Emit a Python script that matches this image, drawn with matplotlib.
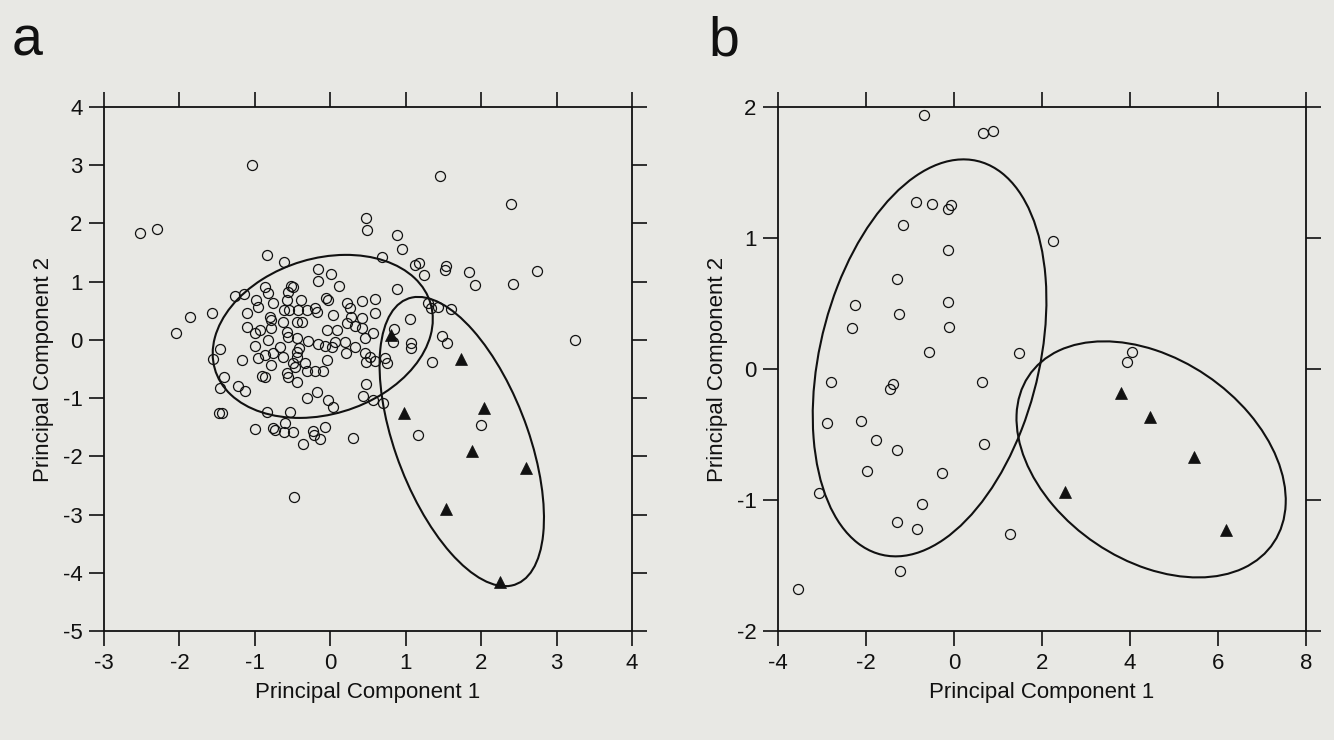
import matplotlib
matplotlib.use("Agg")
import matplotlib.pyplot as plt
from matplotlib.patches import Ellipse

plt.rcParams['font.family'] = ['Liberation Sans', 'DejaVu Sans']

# ---------------- Panel a data ----------------
a_circ_x = [-1.04, -2.52, -2.30, -0.835, 1.45, 2.39, 0.89, 0.955, 0.685, 1.12, 1.18, 1.245, 1.53, 1.52,
            1.835, 1.92, 2.42, 2.74, 0.89, 1.29, 1.335, 1.43, 1.60, 1.06, 0.845, 0.83, 1.065, 1.065,
            1.475, 1.55, 0.72, 0.755, 1.345, 3.25, 0.695, 1.16, 2.0, 0.475, 0.49,
            -0.16, 0.01, -0.16, 0.12, -0.61, -0.865, -0.82, -0.52, -0.49, -0.555, -1.26, -1.14, -0.985,
            -0.955, -0.765, -0.57, -0.39, -0.06, -1.86, -1.57, -1.11, -0.545, -0.425, -0.31, -0.20, -0.18,
            -0.78, -0.625, -0.445, -0.38, -1.11, -0.93, -1.0, -0.78, -0.58, -0.555, -0.05, -0.82, -0.445,
            -0.29, -0.16, -0.07, -1.46, -1.0, -0.665, -0.865, -0.755, -0.625, -0.445, -1.55, -1.175,
            -0.955, -0.78, -0.49, -0.335, -0.05, -0.20, -0.31, -0.09, -1.415, -0.91, -0.865, -0.555,
            -0.445, -0.18, -1.46, -1.22, -1.13, -0.31, -0.03, 0.415, 0.59, 0.04, 0.22, 0.26, 0.28, 0.33,
            0.415, 0.59, -0.80, -0.62, 0.085, 0.22, 0.06, 0.195, 0.46, 0.57, -0.42, 0.02, 0.33, 0.21,
            0.46, 0.53, 0.59, -0.445, -0.47, -0.58, 0.48, 0.48, 0.44, -0.03, 0.03, 0.56, -1.475, -1.43,
            -0.835, -0.535, -1.0, -0.755, -0.735, -0.60, -0.615, -0.49, -0.235, -0.21, -0.13, -0.07,
            -0.36, 0.305, -0.48, 0.415, -2.05]
a_circ_y = [3.01, 1.83, 1.90, 1.45, 2.82, 2.34, 1.81, 1.56, 1.43, 1.29, 1.32, 1.12, 1.27, 1.20,
            1.17, 0.94, 0.96, 1.19, 0.88, 0.64, 0.54, 0.57, 0.53, 0.355, 0.19, -0.03, -0.06, -0.14,
            0.06, -0.06, -0.31, -0.40, -0.38, 0.005, -1.09, -1.63, -1.46, 2.09, 1.89,
            1.22, 1.14, 1.02, 0.92, 1.33, 0.90, 0.80, 0.93, 0.91, 0.83, 0.755, 0.78, 0.69,
            0.57, 0.64, 0.69, 0.69, 0.715, 0.39, 0.46, 0.46, 0.51, 0.51, 0.51, 0.54, 0.485,
            0.34, 0.30, 0.31, 0.30, 0.22, 0.17, 0.115, 0.20, 0.14, 0.057, 0.17, 0.0, 0.03,
            -0.02, -0.07, -0.10, -0.16, -0.10, -0.125, -0.26, -0.23, -0.29, -0.30, -0.33, -0.34,
            -0.31, -0.43, -0.40, -0.40, -0.34, -0.54, -0.54, -0.54, -0.63, -0.62, -0.63, -0.63,
            -0.715, -0.89, -0.83, -0.80, -0.87, -1.0, 0.68, 0.67, 0.70, 0.43, 0.63, 0.54, 0.40, 0.23,
            0.37, 0.46, 0.40, 0.51, 0.17, 0.29, -0.03, -0.03, 0.03, 0.115, -0.14, -0.115, -0.115, -0.23,
            -0.23, -0.29, -0.37, -0.20, -0.46, -0.57, -0.38, -0.755, -0.97, -1.03, -1.16, -1.04, -1.25, -1.26,
            -1.23, -1.23, -1.53, -1.51, -1.54, -1.43, -1.58, -1.58, -1.56, -1.63, -1.70, -1.50,
            -1.78, -1.69, -2.69, 0.20, 0.12]
a_tri_x = [0.81, 1.73, 0.977, 2.04, 1.88, 2.60, 1.54, 2.245]
a_tri_y = [0.085, -0.33, -1.25, -1.17, -1.90, -2.20, -2.90, -4.16]

# ellipses (centre x, centre y, width, height, angle)
a_ell_circ = (-0.10, 0.06, 3.154, 2.532, 39.5)
a_ell_tri = (1.743, -1.746, 5.12, 1.796, -75.07)

a_xticks = [-3, -2, -1, 0, 1, 2, 3, 4]
a_yticks = [-5, -4, -3, -2, -1, 0, 1, 2, 3, 4]

# ---------------- Panel b data ----------------
b_circ_x = [-0.682, 0.667, 0.879, -0.87, -0.507, -0.075, -0.143, -1.16, 2.257, -0.128, -1.30, -2.25,
            -1.243, -0.128, -2.31, -0.107, -0.568, 1.485, 4.04, 3.94, -2.80, -1.38, -1.455, 0.63,
            -2.89, -2.12, -1.78, -1.30, 0.675, -1.977, -0.28, -3.06, -0.727, -1.295, -0.84, 1.27,
            -1.235, -3.55]
b_circ_y = [1.94, 1.80, 1.82, 1.277, 1.257, 1.249, 1.218, 1.10, 0.98, 0.91, 0.687, 0.49,
            0.419, 0.508, 0.312, 0.322, 0.13, 0.12, 0.13, 0.054, -0.097, -0.117, -0.156, -0.10,
            -0.41, -0.40, -0.54, -0.62, -0.57, -0.78, -0.795, -0.95, -1.03, -1.17, -1.22, -1.26,
            -1.54, -1.68]
b_tri_x = [3.79, 4.45, 5.46, 6.18, 2.52]
b_tri_y = [-0.18, -0.37, -0.67, -1.23, -0.94]

b_ell_circ = (-0.555, 0.085, 5.412, 2.846, 13.07)
b_ell_tri = (4.48, -0.69, 6.154, 1.68, -6.33)

b_xticks = [-4, -2, 0, 2, 4, 6, 8]
b_yticks = [-2, -1, 0, 1, 2]

BG = '#e8e8e4'
INK = '#111111'

fig = plt.figure(figsize=(13.34, 7.40), dpi=100, facecolor=BG)

W, H = 1334.0, 740.0
ax_a = fig.add_axes([104 / W, 1 - 631 / H, 528 / W, 524 / H])
ax_b = fig.add_axes([778 / W, 1 - 631 / H, 528 / W, 524 / H])


def style(ax, xlim, ylim, xt, yt):
    ax.set_facecolor(BG)
    ax.set_xlim(*xlim)
    ax.set_ylim(*ylim)
    ax.set_xticks(xt)
    ax.set_yticks(yt)
    ax.set_xticklabels([str(v) for v in xt])
    ax.set_yticklabels([str(v) for v in yt])
    for s in ax.spines.values():
        s.set_color(INK)
        s.set_linewidth(1.3)
    ax.tick_params(direction='out', top=True, right=True, length=10.5, width=1.2,
                   color=INK, labelsize=16, labelcolor=INK, pad=5)
    ax.set_xlabel('Principal Component 1', fontsize=16, color=INK, labelpad=6)
    ax.set_ylabel('Principal Component 2', fontsize=16, color=INK, labelpad=6)


def draw(ax, cx, cy, tx, ty, e1, e2):
    ax.plot(cx, cy, linestyle='none', marker='o', markersize=7.2, markerfacecolor='none',
            markeredgecolor=INK, markeredgewidth=0.9, zorder=3)
    ax.plot(tx, ty, linestyle='none', marker='^', markersize=8, markerfacecolor=INK,
            markeredgecolor=INK, markeredgewidth=0.5, zorder=4)
    for e in (e1, e2):
        ax.add_patch(Ellipse((e[0], e[1]), e[2], e[3], angle=e[4], fill=False,
                             edgecolor=INK, linewidth=1.5, zorder=2))


draw(ax_a, a_circ_x, a_circ_y, a_tri_x, a_tri_y, a_ell_circ, a_ell_tri)
style(ax_a, (-3, 4), (-5, 4), a_xticks, a_yticks)

draw(ax_b, b_circ_x, b_circ_y, b_tri_x, b_tri_y, b_ell_circ, b_ell_tri)
style(ax_b, (-4, 8), (-2, 2), b_xticks, b_yticks)

fig.text(12 / W, 1 - 55 / H, 'a', fontsize=40, color=INK, ha='left', va='baseline')
fig.text(708 / W, 1 - 55 / H, 'b', fontsize=40, color=INK, ha='left', va='baseline')

fig.savefig('out.png', dpi=100, facecolor=BG)
